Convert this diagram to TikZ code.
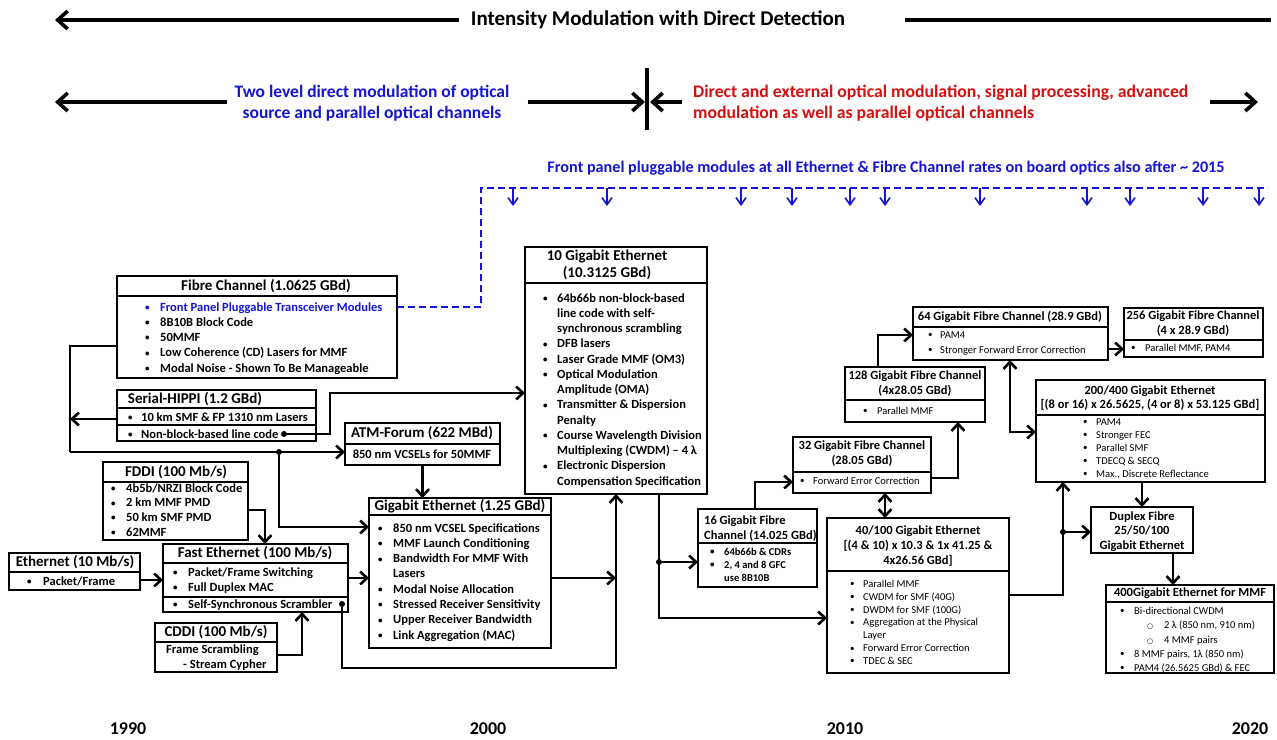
\documentclass[tikz,border=0pt]{standalone}
\usepackage{fontspec}
\setmainfont{Carlito}
\newfontfamily\symfont{DejaVu Sans}
\usetikzlibrary{arrows.meta,calc}
\definecolor{tblue}{RGB}{20,20,215}
\definecolor{tred}{RGB}{215,15,15}
\newcommand\bu{\leavevmode\raisebox{0.6pt}{\fontsize{9}{9}\selectfont\textbullet}}
\newcommand\cir{{\fontsize{7}{7}\symfont ○}}
% bullet list: #1 = gap between bullet and text, #2 = rows
\newcommand\blst[2]{\begin{tabular}[t]{@{}p{#1}@{}l@{}}#2\end{tabular}}
\tikzset{
  box/.style={draw, line width=2.6pt, inner sep=0pt, outer sep=0pt, anchor=north west},
  div/.style={line width=2.6pt},
  ttl/.style={font=\fontsize{15}{17}\selectfont\bfseries, inner sep=0pt, align=center},
  ttls/.style={font=\fontsize{12.5}{15}\selectfont\bfseries, inner sep=0pt, align=center},
  itm/.style={font=\fontsize{12.5}{15.25}\selectfont\bfseries, inner sep=0pt, anchor=base west},
  itms/.style={font=\fontsize{10.5}{13}\selectfont, inner sep=0pt, anchor=base west},
  ln/.style={line width=2.6pt},
  ar/.style={ln, -{Straight Barb[length=7pt,width=13pt]}},
  dar/.style={ln, {Straight Barb[length=7pt,width=13pt]}-{Straight Barb[length=7pt,width=13pt]}},
  bigln/.style={line width=3.6pt},
  bigar/.style={bigln, -{Straight Barb[length=10pt,width=18pt]}},
  bdash/.style={tblue, line width=2pt, dash pattern=on 7pt off 4pt},
  bar/.style={tblue, line width=1.6pt, -{Straight Barb[length=7pt,width=10pt]}},
  year/.style={font=\fontsize{18}{20}\selectfont\bfseries, inner sep=0pt},
  jdot/.style={circle, fill, inner sep=0pt, minimum size=6pt},
}
\newcommand\boxat[5]{\node[box, minimum width={(#4-#2)*1pt}, minimum height={(#5-#3)*1pt}] (#1) at (#2,#3) {};}
\newcommand\divat[2]{\draw[div] (#1.west |- 0,#2) -- (#1.east |- 0,#2);}
\begin{document}
\begin{tikzpicture}[x=1pt,y=-1pt]
\fill[white] (0,0) rectangle (1277,739);
\useasboundingbox (0,0) rectangle (1277,739);

% ---------- headline arrows ----------
\node[font=\fontsize{21}{24}\selectfont\bfseries, inner sep=0pt] (imdd) at (658,20) {Intensity Modulation with Direct Detection};
\coordinate (imddL) at (55,20);
\coordinate (imddR) at (1271,20);
\draw[bigar] (imdd.west) ++(-12,0) -- (imddL);
\draw[bigln] (imdd.east) ++(60,0) -- (imddR);

\node[font=\fontsize{17.5}{21}\selectfont\bfseries, text=tblue, inner sep=0pt, align=center] (twolev) at (372,103.5) {Two level direct modulation of optical\\source and parallel optical channels};
\node[font=\fontsize{17.7}{21}\selectfont\bfseries, text=tred, inner sep=0pt, align=left, anchor=west] (extmod) at (693,103) {Direct and external optical modulation, signal processing, advanced\\modulation as well as parallel optical channels};
\coordinate (era) at (647,102);
\coordinate (eraTop) at (647,68);
\coordinate (eraBot) at (647,130);
\coordinate (lftEnd) at (55,102);
\coordinate (rgtEnd) at (1258,102);
\draw[bigln] (eraTop) -- (eraBot);
\draw[bigar] (twolev.west |- era) ++(-7,0) -- (lftEnd);
\draw[bigar] (twolev.east |- era) ++(18,0) -- ([xshift=-2pt]era);
\draw[bigar] (extmod.west |- era) ++(-11,0) -- ([xshift=3pt]era);
\draw[bigar] (extmod.west |- era) ++(517,0) -- (rgtEnd);

% ---------- pluggable modules bus ----------
\node[font=\fontsize{16.2}{18}\selectfont\bfseries, text=tblue, inner sep=0pt] (fpm) at (886,168) {Front panel pluggable modules at all Ethernet \& Fibre Channel rates on board optics also after \textasciitilde{} 2015};

% ---------- boxes ----------
\boxat{fc}{117}{276}{397}{378}
\divat{fc}{296}
\node[ttl] (fcT) at (266,286) {Fibre Channel (1.0625 GBd)};
\node[itm] (fcL) at (145,311) {\blst{15pt}{\leavevmode\textcolor{tblue}{\bu} & \textcolor{tblue}{Front Panel Pluggable Transceiver Modules}\\ \bu & 8B10B Block Code\\ \bu & 50MMF\\ \bu & Low Coherence (CD) Lasers for MMF\\ \bu & Modal Noise - Shown To Be Manageable}};

\boxat{hippi}{117}{390}{316}{441}
\divat{hippi}{408}
\divat{hippi}{425}
\node[ttl] (hippiT) at (195,399) {Serial-HIPPI (1.2 GBd)};
\node[itm, font=\fontsize{12.5}{17}\selectfont\bfseries] (hippiL) at (128,421) {\blst{13pt}{\bu & 10 km SMF \& FP 1310 nm Lasers\\ \bu & Non-block-based line code}};

\boxat{atm}{345}{423}{500}{465}
\divat{atm}{444}
\node[ttl] (atmT) at (422,433.5) {ATM-Forum (622 MBd)};
\node[ttl, font=\fontsize{12.5}{15}\selectfont\bfseries] (atmL) at (422,454.5) {850 nm VCSELs for 50MMF};

\boxat{fddi}{103}{462}{248}{540}
\divat{fddi}{482}
\node[ttl] (fddiT) at (176,472) {FDDI (100 Mb/s)};
\node[itm, font=\fontsize{12.5}{14.7}\selectfont\bfseries] (fddiL) at (111,492) {\blst{15pt}{\bu & 4b5b/NRZI Block Code\\ \bu & 2 km MMF PMD\\ \bu & 50 km SMF PMD\\ \bu & 62MMF}};

\boxat{eth}{9}{553}{140}{590}
\divat{eth}{572}
\node[ttl] (ethT) at (75,562.5) {Ethernet (10 Mb/s)};
\node[itm] (ethL) at (27,585) {\blst{16pt}{\bu & Packet/Frame}};

\boxat{feth}{163}{544}{348}{612}
\divat{feth}{563}
\divat{feth}{597}
\node[ttl] (fethT) at (255,553.5) {Fast Ethernet (100 Mb/s)};
\node[itm, font=\fontsize{12.5}{15}\selectfont\bfseries] (fethL) at (173,576) {\blst{15pt}{\bu & Packet/Frame Switching\\ \bu & Full Duplex MAC}};
\node[itm] (fethS) at (173,608) {\blst{15pt}{\bu & Self-Synchronous Scrambler}};

\boxat{cddi}{155}{623}{277}{672}
\divat{cddi}{642}
\node[ttl] (cddiT) at (216,632.5) {CDDI (100 Mb/s)};
\node[ttl, align=left, anchor=west, font=\fontsize{12.5}{15}\selectfont\bfseries] (cddiL) at (166,657.5) {Frame Scrambling\\\hspace*{17pt}- Stream Cypher};

\boxat{gbe}{369}{498}{551}{648}
\divat{gbe}{515}
\node[ttl] (gbeT) at (460,506.5) {Gigabit Ethernet (1.25 GBd)};
\node[itm, font=\fontsize{12.5}{15.3}\selectfont\bfseries] (gbeL) at (378,532) {\blst{15pt}{\bu & 850 nm VCSEL Specifications\\ \bu & MMF Launch Conditioning\\ \bu & Bandwidth For MMF With\\ & Lasers\\ \bu & Modal Noise Allocation\\ \bu & Stressed Receiver Sensitivity\\ \bu & Upper Receiver Bandwidth\\ \bu & Link Aggregation (MAC)}};

\boxat{tge}{525}{247}{707}{494}
\divat{tge}{283}
\node[ttl] (tgeT) at (607,264.5) {10 Gigabit Ethernet\\(10.3125 GBd)};
\node[itm] (tgeL) at (543,302) {\blst{14pt}{\bu & 64b66b non-block-based\\ & line code with self-\\ & synchronous scrambling\\ \bu & DFB lasers\\ \bu & Laser Grade MMF (OM3)\\ \bu & Optical Modulation\\ & Amplitude (OMA)\\ \bu & Transmitter \& Dispersion\\ & Penalty\\ \bu & Course Wavelength Division\\ & Multiplexing (CWDM) – 4 λ\\ \bu & Electronic Dispersion\\ & Compensation Specification}};

\boxat{gsx}{698}{509}{817}{587}
\divat{gsx}{543}
\node[ttls, align=left, anchor=west] (gsxT) at (704,528.5) {16 Gigabit Fibre\\Channel (14.025 GBd)};
\node[itms, font=\fontsize{10.5}{13}\selectfont\bfseries] (gsxL) at (710,555.5) {\blst{14pt}{\bu & 64b66b \& CDRs\\ \bu & 2, 4 and 8 GFC\\ & use 8B10B}};

\boxat{gtt}{793}{437}{931}{493}
\divat{gtt}{472}
\node[ttls] (gttT) at (862,453.5) {32 Gigabit Fibre Channel\\(28.05 GBd)};
\node[itms] (gttL) at (800,484.5) {\blst{13pt}{\bu & Forward Error Correction}};

\boxat{ghe}{845}{367}{985}{422}
\divat{ghe}{400}
\node[ttls] (gheT) at (915,384) {128 Gigabit Fibre Channel\\(4x28.05 GBd)};
\node[itms] (gheL) at (863,414.5) {\blst{14pt}{\bu & Parallel MMF}};

\boxat{gsf}{913}{307}{1108}{360}
\divat{gsf}{327}
\node[ttls] (gsfT) at (1010,316.5) {64 Gigabit Fibre Channel (28.9 GBd)};
\node[itms, font=\fontsize{10.5}{15}\selectfont] (gsfL) at (928,338.5) {\blst{12pt}{\bu & PAM4\\ \bu & Stronger Forward Error Correction}};

\boxat{gtf}{1124}{308}{1263}{357}
\divat{gtf}{340}
\node[ttls] (gtfT) at (1193,324) {256 Gigabit Fibre Channel\\(4 x 28.9 GBd)};
\node[itms] (gtfL) at (1131,351.5) {\blst{14pt}{\bu & Parallel MMF, PAM4}};

\boxat{gtk}{1036}{380}{1265}{482}
\divat{gtk}{415}
\node[ttls, font=\fontsize{12.5}{14}\selectfont\bfseries] (gtkT) at (1150,398) {200/400 Gigabit Ethernet\\{}[(8 or 16) x 26.5625, (4 or 8) x 53.125 GBd]};
\node[itms] (gtkL) at (1083,425.5) {\blst{13pt}{\bu & PAM4\\ \bu & Stronger FEC\\ \bu & Parallel SMF\\ \bu & TDECQ \& SECQ\\ \bu & Max., Discrete Reflectance}};

\boxat{gfh}{827}{518}{1009}{673}
\divat{gfh}{571}
\node[ttls] (gfhT) at (918,546) {40/100 Gigabit Ethernet\\{}[(4 \& 10) x 10.3 \& 1x 41.25 \&\\4x26.56 GBd]};
\node[itms, font=\fontsize{10.5}{12.83}\selectfont] (gfhL) at (850,587.5) {\blst{13pt}{\bu & Parallel MMF\\ \bu & CWDM for SMF (40G)\\ \bu & DWDM for SMF (100G)\\ \bu & Aggregation at the Physical\\ & Layer\\ \bu & Forward Error Correction\\ \bu & TDEC \& SEC}};

\boxat{dup}{1091}{507}{1193}{553}
\node[ttls, font=\fontsize{12.5}{14.5}\selectfont\bfseries] (dupT) at (1142,531.5) {Duplex Fibre\\25/50/100\\Gigabit Ethernet};

\boxat{mmf}{1106}{585}{1274}{673}
\divat{mmf}{602}
\node[ttls] (mmfT) at (1190,593.5) {400Gigabit Ethernet for MMF};
\node[itms, font=\fontsize{10.5}{14.25}\selectfont] (mmfL) at (1120,614.5) {\blst{14pt}{\bu & Bi-directional CWDM\\ & \hspace*{13pt}\makebox[17pt][l]{\cir}2 λ (850 nm, 910 nm)\\ & \hspace*{13pt}\makebox[17pt][l]{\cir}4 MMF pairs\\ \bu & 8 MMF pairs, 1λ (850 nm)\\ \bu & PAM4 (26.5625 GBd) \& FEC}};

% ---------- years ----------
\node[year] (y1990) at (128,729) {1990};
\node[year] (y2000) at (488,729) {2000};
\node[year] (y2010) at (845,729) {2010};
\node[year] (y2020) at (1250,729) {2020};

% ---------- front panel pluggable bus ----------
\coordinate (fpCorner) at (481,188);
\coordinate (fpEnd) at (1268,188);
\draw[bdash] (fc.east |- 0,307) -| (fpCorner) -- (fpEnd);
\foreach \x in {513,607,741,792,850,885,980,1087,1130,1203,1259}
  \draw[bar] (\x,188) -- (\x,206);

% ---------- connectors, left group ----------
\coordinate (busTop) at (70,346);
\coordinate (busHip) at (70,419);
\coordinate (busBot) at (70,452);
\draw[ln] (fc.west |- busTop) -- (busTop) -- (busBot);
\draw[ar] (busBot) -- (atm.west |- busBot);
\draw[ar] (hippi.west |- busHip) -- (busHip);
\node[jdot] (ja) at (279,452) {};
\draw[ar] (ja) |- (gbe.west |- 0,527);
\node[jdot] (jb) at (284,434) {};
\coordinate (hipUp) at (330,393);
\draw[ar] (jb) -| (hipUp) -- (tge.west |- hipUp);
\draw[ar] (atm.south) -- (atm.south |- gbe.north);
\draw[ar] (fddi.east |- 0,510) -| (feth.north -| 265,0);
\draw[ar] (eth.east |- 0,580) -- (feth.west |- 0,580);
\draw[ar] (feth.east |- 0,578) -- (gbe.west |- 0,578);
\draw[ar] (cddi.east |- 0,655) -| (feth.south -| 302,0);
\node[jdot] (jc) at (342,604) {};
\coordinate (busR) at (616,578);
\coordinate (loopR) at (616,668);
\draw[ar] (jc) |- (loopR) -- (tge.south -| loopR);
\draw[ar] (gbe.east |- busR) -- (busR);

% ---------- connectors, right group ----------
\node[jdot] (jd) at (659,562) {};
\draw[ar] (tge.south -| jd) |- (gfh.west |- 0,618);
\draw[ar] (jd) -- (gsx.west |- jd);
\draw[ar] (gsx.north -| 755,0) |- (gtt.west |- 0,482);
\draw[ar] (gtt.east |- 0,478) -| (ghe.south -| 958,0);
\draw[dar] (gtt.south -| 885,0) -- (gfh.north -| 885,0);
\draw[ar] (ghe.north -| 878,0) |- (gsf.west |- 0,335);
\draw[ar] (gsf.east |- 0,349) -- (gtf.west |- 0,349);
\draw[dar] (gsf.south -| 1010,0) |- (gtk.west |- 0,432);
\node[jdot] (je) at (1063,532) {};
\draw[ar] (gfh.east |- 0,595) -| (gtk.south -| je);
\draw[ar] (je) -- (dup.west |- je);
\draw[ar] (gtk.south -| 1142,0) -- (dup.north -| 1142,0);
\draw[ar] (dup.south -| 1173,0) -- (mmf.north -| 1173,0);
\end{tikzpicture}
\end{document}
